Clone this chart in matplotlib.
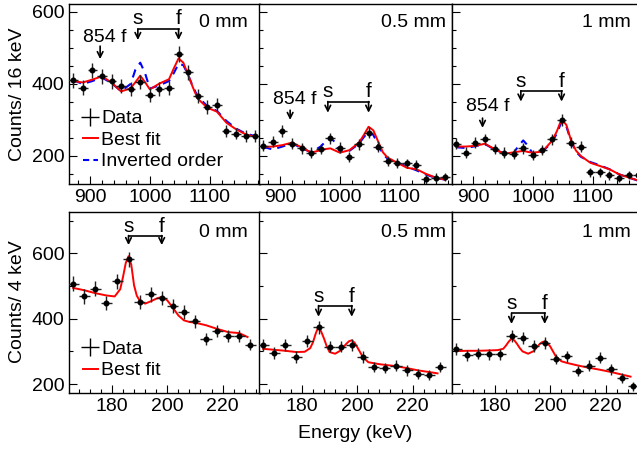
import numpy as np
import matplotlib
matplotlib.use("Agg")
import matplotlib.pyplot as plt
from matplotlib.lines import Line2D
from matplotlib.ticker import MultipleLocator

plt.rcParams['font.family'] = ['Liberation Sans', 'DejaVu Sans']

# ---- top row: 16 keV bins ----
top_x = [872, 888, 904, 920, 936, 952, 968, 984, 1000, 1016,
         1032, 1048, 1064, 1080, 1096, 1112, 1128, 1144, 1160, 1176]
top_counts = {
    "0 mm":   [410, 390, 438, 421, 407, 394, 386, 406, 369, 386,
               389, 482, 433, 367, 336, 342, 269, 262, 256, 256],
    "0.5 mm": [228, 240, 269, 234, 221, 209, 219, 249, 223, 198,
               232, 265, 226, 186, 181, 179, 175, 135, 140, 142],
    "1 mm":   [234, 209, 237, 246, 219, 209, 205, 221, 202, 216,
               246, 300, 237, 226, 154, 154, 146, 138, 147, 147],
}

fit_x_top = [872, 888, 904, 920, 936, 952, 968, 976, 984, 992, 1000, 1016,
             1032, 1040, 1048, 1056, 1064, 1072, 1080, 1096, 1112, 1128, 1144, 1160, 1176]
best_top = {
    "0 mm":   [408, 404, 412, 421, 404, 379, 388, 405, 423, 405, 385, 401,
               413, 443, 471, 459, 425, 390, 359, 334, 323, 292, 274, 260, 253],
    "0.5 mm": [225, 226, 230, 237, 224, 209, 216, 219, 221, 215, 209, 216,
               237, 258, 281, 271, 240, 210, 195, 181, 167, 163, 150, 140, 134],
    "1 mm":   [226, 226, 228, 234, 219, 206, 210, 212, 214, 211, 209, 212,
               242, 268, 302, 286, 242, 215, 200, 181, 172, 163, 149, 140, 132],
}
inverted_top = {
    "0 mm":   [410, 400, 408, 418, 402, 380, 400, 440, 459, 430, 387, 396,
               408, 430, 456, 452, 425, 392, 365, 338, 325, 297, 276, 262, 255],
    "0.5 mm": [225, 218, 226, 235, 222, 210, 226, 240, 251, 238, 212, 214,
               234, 252, 268, 258, 232, 205, 192, 182, 170, 160, 148, 139, 134],
    "1 mm":   [224, 222, 227, 233, 218, 207, 208, 228, 243, 228, 205, 212,
               238, 262, 295, 282, 240, 212, 198, 183, 174, 163, 149, 140, 131],
}

# ---- bottom row: 4 keV bins ----
bot_x = [166, 170, 174, 178, 182, 186, 190, 194, 198, 202,
         206, 210, 214, 218, 222, 226, 230]
bot_counts = {
    "0 mm":   [507, 468, 492, 448, 514, 581, 451, 474, 464, 438,
               420, 392, 337, 362, 346, 346, 321],
    "0.5 mm": [320, 295, 320, 283, 331, 374, 315, 315, 320, 283,
               252, 249, 257, 242, 232, 229, 252],
    "1 mm":   [308, 288, 293, 291, 291, 347, 341, 316, 325, 277,
               285, 240, 257, 281, 245, 219, 194],
}

fit_x_bot = [166, 170, 174, 178, 181, 183, 184, 185, 186, 187, 188, 189, 190,
             192, 194, 196, 197, 198, 199, 200, 202, 204, 206, 208, 210,
             214, 218, 222, 226, 229]
best_bot = {
    "0 mm":   [494, 487, 478, 471, 468, 490, 527, 570, 591, 565, 502, 470, 456,
               446, 453, 461, 464, 466, 462, 456, 434, 410, 395, 390, 388,
               380, 369, 359, 356, 344],
    "0.5 mm": [308, 305, 302, 298, 299, 310, 328, 355, 376, 360, 339, 315, 298,
               293, 303, 323, 331, 334, 327, 313, 283, 267, 264, 261, 259,
               255, 249, 242, 237, 233],
    "1 mm":   [301, 302, 302, 303, 304, 308, 318, 330, 339, 334, 323, 310, 300,
               293, 301, 321, 328, 331, 325, 315, 285, 270, 265, 261, 257,
               250, 244, 237, 229, 223],
}

panels = ["0 mm", "0.5 mm", "1 mm"]

# arrow annotations (data coords): 854 f (x, tip y, tail y, text y), s/f bracket (bar y, tip y, text y)
top_854 = {"0 mm": (917, 469, 505, 530), "0.5 mm": (917, 300, 327, 358), "1 mm": (916, 278, 305, 336)}
top_sf = {"0 mm": (552, 522, 583), "0.5 mm": (351, 320, 378), "1 mm": (381, 351, 408)}
bot_sf = {"0 mm": (654, 625, 681), "0.5 mm": (440, 406, 469), "1 mm": (417, 384, 445)}
s_top, f_top = 980, 1048
s_bot, f_bot = 186, 198

W, H = 637, 451
fig = plt.figure(figsize=(W / 100, H / 100), dpi=100)

lefts = [69, 259, 452]
widths = [191, 193, 197]   # last column runs off the right edge of the picture
top_scale = 191 / (1184 - 865)      # px per keV
bot_scale = 191 / (233.5 - 164.5)


def style(ax, xmaj, xmin, ymaj, ymin):
    ax.xaxis.set_major_locator(MultipleLocator(xmaj))
    ax.xaxis.set_minor_locator(MultipleLocator(xmin))
    ax.yaxis.set_major_locator(MultipleLocator(ymaj))
    ax.yaxis.set_minor_locator(MultipleLocator(ymin))
    ax.tick_params(which='both', direction='in', top=False, right=False, labelsize=14, width=0.8)
    ax.tick_params(which='major', length=6)
    ax.tick_params(which='minor', length=3)
    for sp in ax.spines.values():
        sp.set_linewidth(1.0)


def arrow(ax, x, y0, y1):
    ax.annotate("", xy=(x, y0), xytext=(x, y1),
                arrowprops=dict(arrowstyle="->", color="k", lw=1.2, shrinkA=0, shrinkB=0,
                                mutation_scale=10))


for i, p in enumerate(panels):
    w = widths[i]
    # top row
    ax = fig.add_axes([lefts[i] / W, (H - 184) / H, w / W, 180 / H])
    y = np.array(top_counts[p])
    ax.plot(fit_x_top, inverted_top[p], color='blue', lw=1.5, ls=(0, (4, 3)), zorder=2)
    ax.plot(fit_x_top, best_top[p], color='red', lw=1.4, zorder=3)
    ax.errorbar(top_x, y, xerr=8, yerr=np.sqrt(y), fmt='o', ms=3.3, color='k',
                ecolor='#222222', elinewidth=1.0, capsize=0, zorder=4)
    ax.set_xlim(865, 865 + w / top_scale)
    ax.set_ylim(122, 622)
    style(ax, 100, 20, 200, 50)
    if i > 0:
        ax.set_yticklabels([])
    ax.text(0.81 * 191 / w, 0.895, p, transform=ax.transAxes, ha='center', va='center', fontsize=14)
    xa, tip, tail, ty = top_854[p]
    arrow(ax, xa, tip, tail)
    ax.text(xa + 8, ty, "854 f", ha='center', va='center', fontsize=14)
    bar, tip, ty = top_sf[p]
    ax.plot([s_top, f_top], [bar, bar], color='k', lw=1.2)
    arrow(ax, s_top, tip, bar)
    arrow(ax, f_top, tip, bar)
    ax.text(s_top, ty, "s", ha='center', va='center', fontsize=15)
    ax.text(f_top, ty, "f", ha='center', va='center', fontsize=15)
    if i == 0:
        handles = [Line2D([], [], color='k', marker='+', ms=13, ls='none', mew=1.0),
                   Line2D([], [], color='red', lw=1.4),
                   Line2D([], [], color='blue', lw=1.5, ls=(0, (3, 2)))]
        ax.legend(handles, ["Data", "Best fit", "Inverted order"], loc='lower left',
                  bbox_to_anchor=(0.0, 0.0), frameon=False, fontsize=14,
                  handlelength=0.8, handletextpad=0.15, labelspacing=0.2, borderaxespad=0.3)

    # bottom row
    ax = fig.add_axes([lefts[i] / W, (H - 393) / H, w / W, 181 / H])
    y = np.array(bot_counts[p])
    ax.plot(fit_x_bot, best_bot[p], color='red', lw=1.4, zorder=3)
    ax.errorbar(bot_x, y, xerr=2, yerr=np.sqrt(y), fmt='o', ms=3.3, color='k',
                ecolor='#222222', elinewidth=1.0, capsize=0, zorder=4)
    ax.set_xlim(164.5, 164.5 + w / bot_scale)
    ax.set_ylim(173, 726)
    style(ax, 20, 4, 200, 100)
    if i > 0:
        ax.set_yticklabels([])
    ax.text(0.81 * 191 / w, 0.884, p, transform=ax.transAxes, ha='center', va='center', fontsize=14)
    bar, tip, ty = bot_sf[p]
    ax.plot([s_bot, f_bot], [bar, bar], color='k', lw=1.2)
    arrow(ax, s_bot, tip, bar)
    arrow(ax, f_bot, tip, bar)
    ax.text(s_bot, ty, "s", ha='center', va='center', fontsize=15)
    ax.text(f_bot, ty, "f", ha='center', va='center', fontsize=15)
    if i == 0:
        handles = [Line2D([], [], color='k', marker='+', ms=13, ls='none', mew=1.0),
                   Line2D([], [], color='red', lw=1.4)]
        ax.legend(handles, ["Data", "Best fit"], loc='lower left',
                  bbox_to_anchor=(0.0, 0.0), frameon=False, fontsize=14,
                  handlelength=0.8, handletextpad=0.15, labelspacing=0.2, borderaxespad=0.3)

fig.text(17.5 / W, 1 - 94 / H, "Counts/ 16 keV", rotation=90, ha='center', va='center', fontsize=14)
fig.text(17.5 / W, 1 - 302 / H, "Counts/ 4 keV", rotation=90, ha='center', va='center', fontsize=14)
fig.text(355 / W, 1 - 433 / H, "Energy (keV)", ha='center', va='center', fontsize=14)

fig.savefig("out.png", dpi=100)
